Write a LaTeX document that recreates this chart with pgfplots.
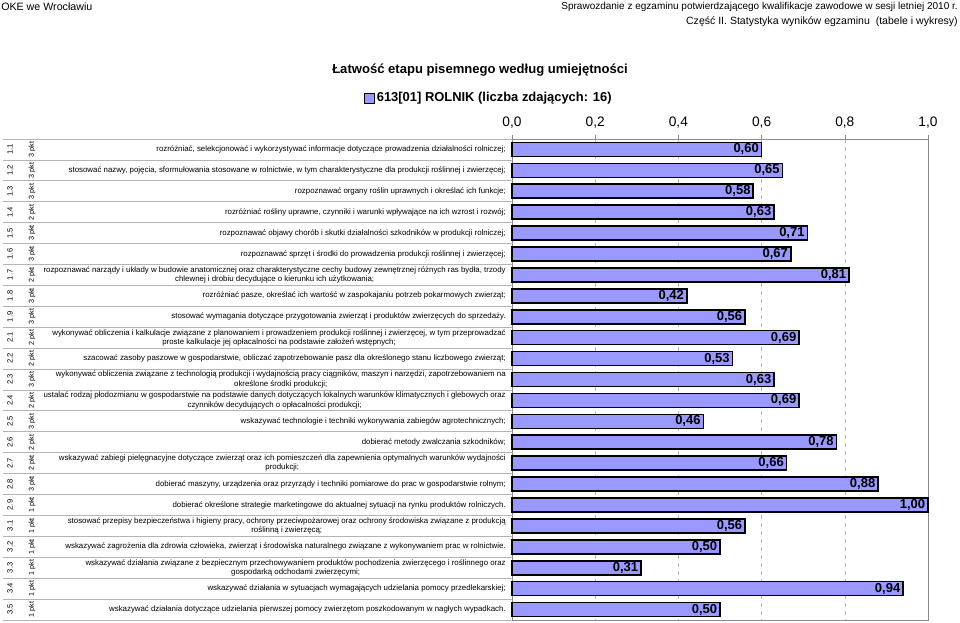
\documentclass[border=0pt]{standalone}
\usepackage{pgfplots}
\pgfplotsset{compat=1.18}
\usepackage{fontspec}
\setmainfont{Liberation Sans}
\definecolor{barfill}{HTML}{9999FF}
\definecolor{tabline}{HTML}{B4B4B4}
\definecolor{frame}{HTML}{8C8C8C}

% rotated number and points columns of the table
\newcommand{\lab}[3]{%
  \node[rotate=90,font=\fontsize{5.7}{7}\selectfont,inner sep=0pt] at (axis cs:-1.2067,#1) {#2};
  \node[rotate=90,font=\fontsize{5.4}{7}\selectfont,inner sep=0pt] at (axis cs:-1.1538,#1) {#3 pkt};
}

\begin{document}
\begin{tikzpicture}
\path[use as bounding box] (0pt,0pt) rectangle (720pt,466.5pt);

% page header
\node[anchor=west,font=\fontsize{8}{9}\selectfont,inner sep=0pt] at (0.75pt,461.25pt) {OKE we Wrocławiu};
\node[anchor=east,font=\fontsize{7.5}{9}\selectfont,inner sep=0pt] at (718.5pt,461.25pt)
  {Sprawozdanie z egzaminu potwierdzającego kwalifikacje zawodowe w sesji letniej 2010 r.};
\node[anchor=east,font=\fontsize{7.9}{9}\selectfont,inner sep=0pt] at (718.5pt,450pt)
  {Część II. Statystyka wyników egzaminu\ \ (tabele i wykresy)};

% title
\node[font=\bfseries\fontsize{9.8}{12}\selectfont] at (360pt,414pt) {Łatwość etapu pisemnego według umiejętności};

\begin{axis}[
  at={(384pt,362.25pt)}, anchor=north west,
  scale only axis, width=312pt, height=360.75pt,
  xbar, bar width=10.5pt,
  xmin=0, xmax=1, ymin=0.5, ymax=23.5, y dir=reverse,
  clip=false,
  axis line style={frame},
  xtick={0,0.2,0.4,0.6,0.8,1},
  xtick pos=right, xticklabel pos=right,
  tick align=outside, major tick length=3pt,
  tick style={frame},
  xticklabel style={font=\fontsize{10.3}{12}\selectfont, yshift=1.5pt},
  /pgf/number format/.cd, fixed, fixed zerofill, precision=1, use comma, assume math mode=true,
  /pgfplots/.cd,
  xmajorgrids, major grid style={dashed, gray!55},
  ytick={1,...,23},
  ytick style={draw=none},
  yticklabel style={font=\fontsize{5.9}{7}\selectfont, align=center, inner sep=0pt, xshift=-1.5pt},
  yticklabels={
    {rozróżniać, selekcjonować i wykorzystywać informacje dotyczące prowadzenia działalności rolniczej;},
    {stosować nazwy, pojęcia, sformułowania stosowane w rolnictwie, w tym charakterystyczne dla produkcji roślinnej i zwierzęcej;},
    {rozpoznawać organy roślin uprawnych i określać ich funkcje;},
    {rozróżniać rośliny uprawne, czynniki i warunki wpływające na ich wzrost i rozwój;},
    {rozpoznawać objawy chorób i skutki działalności szkodników w produkcji rolniczej;},
    {rozpoznawać sprzęt i środki do prowadzenia produkcji roślinnej i zwierzęcej;},
    {rozpoznawać narządy i układy w budowie anatomicznej oraz charakterystyczne cechy budowy zewnętrznej różnych ras bydła, trzody\\chlewnej i drobiu decydujące o kierunku ich użytkowania;},
    {rozróżniać pasze, określać ich wartość w zaspokajaniu potrzeb pokarmowych zwierząt;},
    {stosować wymagania dotyczące przygotowania zwierząt i produktów zwierzęcych do sprzedaży.},
    {wykonywać obliczenia i kalkulacje związane z planowaniem i prowadzeniem produkcji roślinnej i zwierzęcej, w tym przeprowadzać\\proste kalkulacje jej opłacalności na podstawie założeń wstępnych;},
    {szacować zasoby paszowe w gospodarstwie, obliczać zapotrzebowanie pasz dla określonego stanu liczbowego zwierząt;},
    {wykonywać obliczenia związane z technologią produkcji i wydajnością pracy ciągników, maszyn i narzędzi, zapotrzebowaniem na\\określone środki produkcji;},
    {ustalać rodzaj płodozmianu w gospodarstwie na podstawie danych dotyczących lokalnych warunków klimatycznych i glebowych oraz\\czynników decydujących o opłacalności produkcji;},
    {wskazywać technologie i techniki wykonywania zabiegów agrotechnicznych;},
    {dobierać metody zwalczania szkodników;},
    {wskazywać zabiegi pielęgnacyjne dotyczące zwierząt oraz ich pomieszczeń dla zapewnienia optymalnych warunków wydajności\\produkcji;},
    {dobierać maszyny, urządzenia oraz przyrządy i techniki pomiarowe do prac w gospodarstwie rolnym;},
    {dobierać określone strategie marketingowe do aktualnej sytuacji na rynku produktów rolniczych.},
    {stosować przepisy bezpieczeństwa i higieny pracy, ochrony przeciwpożarowej oraz ochrony środowiska związane z produkcją\\roślinną i zwierzęcą;},
    {wskazywać zagrożenia dla zdrowia człowieka, zwierząt i środowiska naturalnego związane z wykonywaniem prac w rolnictwie.},
    {wskazywać działania związane z bezpiecznym przechowywaniem produktów pochodzenia zwierzęcego i roślinnego oraz\\gospodarką odchodami zwierzęcymi;},
    {wskazywać działania w sytuacjach wymagających udzielania pomocy przedlekarskiej;},
    {wskazywać działania dotyczące udzielania pierwszej pomocy zwierzętom poszkodowanym w nagłych wypadkach.}
  },
  legend style={at={(axis description cs:-0.055,1.085)}, anchor=center, draw=none, fill=none,
    font=\bfseries\fontsize{9.7}{12}\selectfont, inner sep=0pt},
  legend image code/.code={\draw[fill=barfill,draw=black,line width=0.5pt] (0pt,-3.6pt) rectangle (7.2pt,3.6pt);},
]
\addplot[xbar, fill=barfill, draw=black, line width=1.2pt,
  point meta=x,
  nodes near coords={\pgfmathprintnumber[fixed,fixed zerofill,precision=2,use comma,assume math mode=true]{\pgfplotspointmeta}},
  nodes near coords style={anchor=east, inner sep=1.5pt, text=black, font=\bfseries\fontsize{9.75}{10}\selectfont},
] coordinates {
  (0.60,1) (0.65,2) (0.58,3) (0.63,4) (0.71,5) (0.67,6) (0.81,7) (0.42,8)
  (0.56,9) (0.69,10) (0.53,11) (0.63,12) (0.69,13) (0.46,14) (0.78,15) (0.66,16)
  (0.88,17) (1.00,18) (0.56,19) (0.50,20) (0.31,21) (0.94,22) (0.50,23)
};
\addlegendentry{613[01] ROLNIK (liczba zdających: 16)}

% table row separators
\pgfplotsinvokeforeach{0,...,23}{
  \draw[tabline, line width=0.6pt] (axis cs:-1.2236,#1.5) -- (axis cs:0,#1.5);
}
\lab{1}{1.1}{3}  \lab{2}{1.2}{3}  \lab{3}{1.3}{3}  \lab{4}{1.4}{2}
\lab{5}{1.5}{3}  \lab{6}{1.6}{3}  \lab{7}{1.7}{2}  \lab{8}{1.8}{3}
\lab{9}{1.9}{3}  \lab{10}{2.1}{2} \lab{11}{2.2}{2} \lab{12}{2.3}{3}
\lab{13}{2.4}{2} \lab{14}{2.5}{3} \lab{15}{2.6}{2} \lab{16}{2.7}{2}
\lab{17}{2.8}{3} \lab{18}{2.9}{1} \lab{19}{3.1}{1} \lab{20}{3.2}{1}
\lab{21}{3.3}{1} \lab{22}{3.4}{1} \lab{23}{3.5}{1}
\end{axis}
\end{tikzpicture}
\end{document}
